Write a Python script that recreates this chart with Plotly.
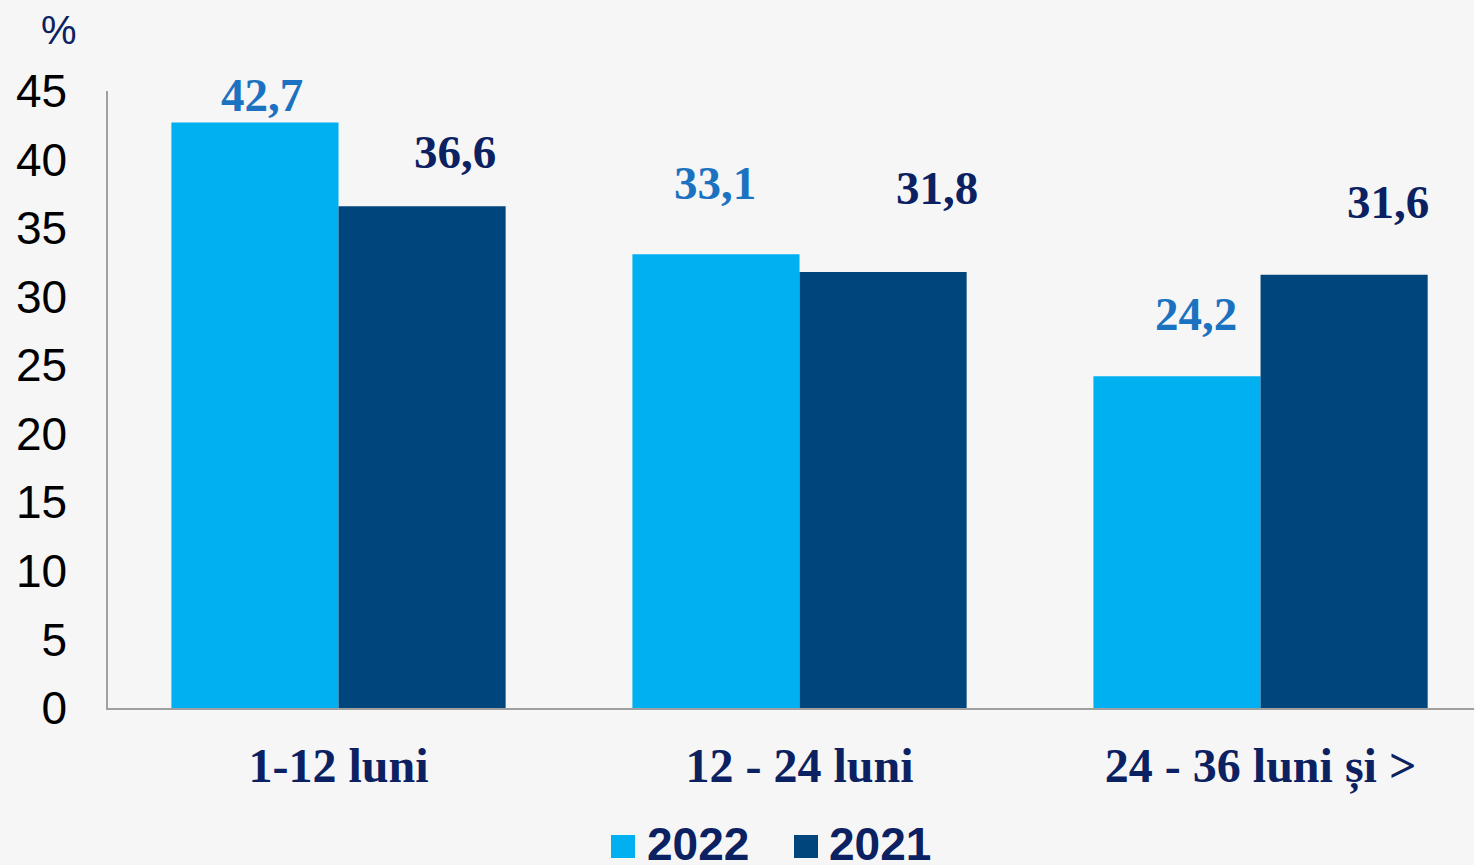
import plotly.graph_objects as go

categories = ["1-12 luni", "12 - 24 luni", "24 - 36 luni și >"]
series_names = ["2022", "2021"]
values_2022 = [42.7, 33.1, 24.2]
values_2021 = [36.6, 31.8, 31.6]
label_2022 = ["42,7", "33,1", "24,2"]
label_2021 = ["36,6", "31,8", "31,6"]
y_ticks = [0, 5, 10, 15, 20, 25, 30, 35, 40, 45]

# style (pixel offsets of value labels relative to bar tops / category centres)
off_2022 = [(-77, 28), (-85, 71), (-65, 62)]
off_2021 = [(116, 54), (137, 84), (127, 73)]

C22 = "#00B0F0"
C21 = "#00457C"
L22 = "#1B72C0"
NAVY = "#0B2161"
W, H = 1474, 865
ML, MR, MT, MB = 108, 0, 91, 157

fig = go.Figure()
fig.add_bar(x=categories, y=values_2022, name=series_names[0], marker_color=C22,
            marker_line_width=0, showlegend=False)
fig.add_bar(x=categories, y=values_2021, name=series_names[1], marker_color=C21,
            marker_line_width=0, showlegend=False)

ann = []
for i, c in enumerate(categories):
    for vals, labs, offs, col in ((values_2022, label_2022, off_2022, L22),
                                  (values_2021, label_2021, off_2021, NAVY)):
        ann.append(dict(x=c, y=vals[i], text=f"<b>{labs[i]}</b>", showarrow=False,
                        xshift=offs[i][0], yshift=offs[i][1], yanchor="middle",
                        font=dict(family="Liberation Serif", size=47, color=col)))

pw = W - ML - MR
ph = H - MT - MB
def px(xp):
    return (xp - ML) / pw
def py(yp):
    return (H - MB - yp) / ph

# "%" unit
ann.append(dict(xref="paper", yref="paper", x=px(59), y=py(30), text="%", showarrow=False,
                xanchor="center", yanchor="middle",
                font=dict(family="Liberation Sans", size=40, color=NAVY)))

# custom legend
shapes = []
for sq_x, txt_x, name, col in ((611, 645, series_names[0], C22), (794, 827, series_names[1], C21)):
    shapes.append(dict(type="rect", xref="paper", yref="paper",
                       x0=px(sq_x), x1=px(sq_x + 24), y0=py(858), y1=py(835),
                       fillcolor=col, line=dict(width=0)))
    ann.append(dict(xref="paper", yref="paper", x=px(txt_x), y=py(844), text=f"<b>{name}</b>",
                    showarrow=False, xanchor="left", yanchor="middle",
                    font=dict(family="Liberation Sans", size=46, color=NAVY)))

fig.update_layout(
    width=W, height=H,
    margin=dict(l=ML, r=MR, t=MT, b=MB),
    paper_bgcolor="#F6F6F6", plot_bgcolor="#F6F6F6",
    barmode="group", bargap=0.275, bargroupgap=0,
    showlegend=False,
    annotations=ann, shapes=shapes,
)
fig.update_xaxes(range=[-0.5, 2.463], showline=True, linecolor="#A0A0A0", linewidth=1.5,
                 showgrid=False, ticks="outside", ticklen=15, tickcolor="rgba(0,0,0,0)",
                 tickfont=dict(family="Liberation Serif", size=48, color=NAVY))
fig.update_xaxes(tickvals=categories, ticktext=[f"<b>{c}</b>" for c in categories])
fig.update_yaxes(range=[0, 45], tickvals=y_ticks, showline=True, linecolor="#A0A0A0", linewidth=1.5,
                 showgrid=False, zeroline=False, ticks="outside", ticklen=30,
                 tickcolor="rgba(0,0,0,0)",
                 tickfont=dict(family="Liberation Sans", size=46, color="#000000"))

fig.write_html("out.html", config={"displayModeBar": False},
               post_script="document.body.style.margin='0';document.body.style.background='#F6F6F6';")
